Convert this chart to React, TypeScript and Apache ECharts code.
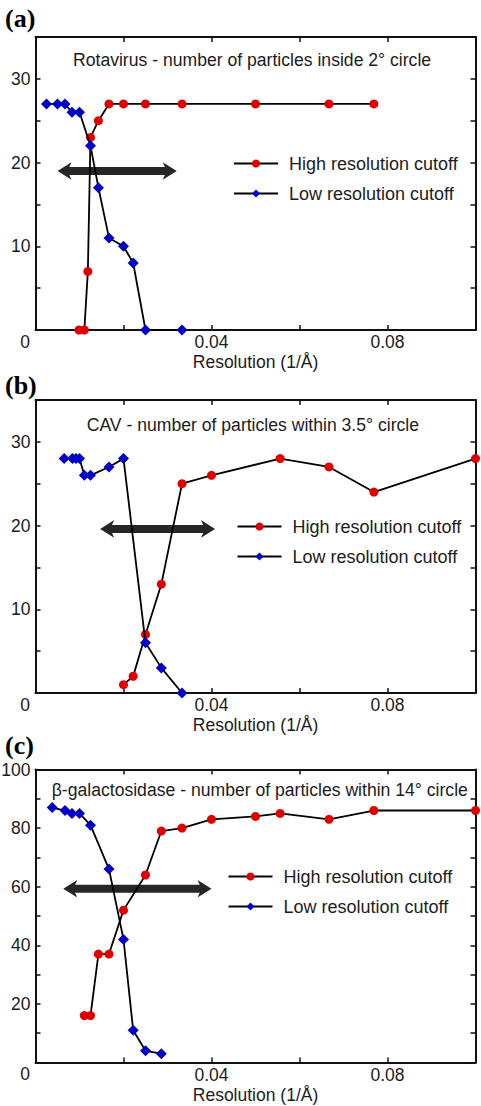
import React, { useEffect, useRef } from "react";
import * as echarts from "echarts";

// ---------- data ----------
const seriesNames = ["High resolution cutoff", "Low resolution cutoff"];
const panelLabels = ["(a)", "(b)", "(c)"];
const panelTitles = [
  "Rotavirus - number of particles inside 2° circle",
  "CAV - number of particles within 3.5° circle",
  "β-galactosidase - number of particles within 14° circle",
];
const xAxisName = "Resolution (1/Å)";
const xTickLabels = ["0.04", "0.08"];
const yMaxes = [35, 35, 100];
const yTickSteps = [5, 5, 10];
const yLabelSteps = [10, 10, 20];

// (a) Rotavirus
const aHighX = [0.0099, 0.0111, 0.0119, 0.0125, 0.0143, 0.0167, 0.02, 0.025, 0.0333, 0.05, 0.0667, 0.0769];
const aHighY = [0, 0, 7, 23, 25, 27, 27, 27, 27, 27, 27, 27];
const aLowX = [0.0025, 0.005, 0.0067, 0.0083, 0.01, 0.0125, 0.0143, 0.0167, 0.02, 0.0222, 0.025, 0.0333];
const aLowY = [27, 27, 27, 26, 26, 22, 17, 11, 10, 8, 0, 0];
const aArrowX = [0.005, 0.0321]; // arrow tips
const aArrowY = 19;

// (b) CAV
const bHighX = [0.02, 0.0222, 0.025, 0.0286, 0.0333, 0.04, 0.0556, 0.0667, 0.0769, 0.1];
const bHighY = [1, 2, 7, 13, 25, 26, 28, 27, 24, 28];
const bLowX = [0.0065, 0.0084, 0.0092, 0.01, 0.0111, 0.0125, 0.0167, 0.02, 0.025, 0.0286, 0.0333];
const bLowY = [28, 28, 28, 28, 26, 26, 27, 28, 6, 3, 0];
const bArrowX = [0.0147, 0.0408];
const bArrowY = 19.6;

// (c) beta-galactosidase
const cHighX = [0.0111, 0.0125, 0.0143, 0.0167, 0.02, 0.025, 0.0286, 0.0333, 0.04, 0.05, 0.0556, 0.0667, 0.0769, 0.1];
const cHighY = [16, 16, 37, 37, 52, 64, 79, 80, 83, 84, 85, 83, 86, 86];
const cLowX = [0.0038, 0.0067, 0.0083, 0.01, 0.0125, 0.0167, 0.02, 0.0222, 0.025, 0.0286];
const cLowY = [87, 86, 85, 85, 81, 66, 42, 11, 4, 3];
const cArrowX = [0.0063, 0.04];
const cArrowY = 59.3;

const highXs = [aHighX, bHighX, cHighX];
const highYs = [aHighY, bHighY, cHighY];
const lowXs = [aLowX, bLowX, cLowX];
const lowYs = [aLowY, bLowY, cLowY];
const arrowXs = [aArrowX, bArrowX, cArrowX];
const arrowYs = [aArrowY, bArrowY, cArrowY];

// ---------- layout / style ----------
const FONT = "'Liberation Sans', Arial, Helvetica, sans-serif";
const TXT = "#1c1c1c";
const RED = "#e00000";
const BLUE = "#0000c8";
const ARROW = "#262626";
const gridTops = [37, 400, 769.5];
const gridLeft = 35.5;
const gridW = 440;
const gridH = 293;
const legendPos = [
  { left: 233, top: 154.5 },
  { left: 236.5, top: 517.5 },
  { left: 227.5, top: 867.5 },
];
const titlePos = [
  { x: 73, y: 60 },
  { x: 86.7, y: 425 },
  { x: 51.7, y: 790 },
];
const labelY = [18, 385, 745];

const zip = (xs: number[], ys: number[]) => xs.map((x, i) => [x, ys[i]]);

// double-headed arrow drawn from data coordinates
const HEAD_LEN = 14;
const HEAD_HALF = 8.8;
const NOTCH = 10;
const SHAFT_HALF = 4;
function renderArrow(params: any, api: any) {
  const p0 = api.coord([api.value(0), api.value(2)]);
  const p1 = api.coord([api.value(1), api.value(2)]);
  const y = p0[1];
  const l = p0[0];
  const r = p1[0];
  return {
    type: "group",
    children: [
      {
        type: "rect",
        shape: { x: l + NOTCH - 1, y: y - SHAFT_HALF, width: r - l - 2 * NOTCH + 2, height: 2 * SHAFT_HALF },
        style: { fill: ARROW },
      },
      {
        type: "polygon",
        shape: {
          points: [
            [l, y],
            [l + HEAD_LEN, y - HEAD_HALF],
            [l + NOTCH, y],
            [l + HEAD_LEN, y + HEAD_HALF],
          ],
        },
        style: { fill: ARROW },
      },
      {
        type: "polygon",
        shape: {
          points: [
            [r, y],
            [r - HEAD_LEN, y - HEAD_HALF],
            [r - NOTCH, y],
            [r - HEAD_LEN, y + HEAD_HALF],
          ],
        },
        style: { fill: ARROW },
      },
    ],
  };
}

function buildOption() {
  const grid: any[] = [];
  const xAxis: any[] = [];
  const yAxis: any[] = [];
  const series: any[] = [];
  const legend: any[] = [];
  const graphic: any[] = [];

  for (let g = 0; g < 3; g++) {
    grid.push({
      left: gridLeft,
      top: gridTops[g],
      width: gridW,
      height: gridH,
      outerBoundsMode: "none",
      containLabel: false,
    });
    const axisCommon = {
      gridIndex: g,
      type: "value",
      splitLine: { show: false },
      axisLine: { show: true, onZero: false, lineStyle: { color: "#111", width: 2 } },
      axisTick: { show: true, inside: true, length: 5, lineStyle: { color: "#111", width: 1.5 } },
    };
    xAxis.push({
      ...axisCommon,
      position: "bottom",
      min: 0,
      max: 0.1,
      interval: 0.02,
      name: xAxisName,
      nameLocation: "middle",
      nameGap: 23,
      nameTextStyle: { fontFamily: FONT, fontSize: 17.5, color: TXT },
      axisLabel: {
        show: true,
        margin: 3,
        fontFamily: FONT,
        fontSize: 17.5,
        color: TXT,
        formatter: (v: number) => {
          const s = v.toFixed(2);
          return xTickLabels.includes(s) ? s : "";
        },
      },
    });
    xAxis.push({
      ...axisCommon,
      position: "top",
      min: 0,
      max: 0.1,
      interval: 0.02,
      axisLabel: { show: false },
    });
    yAxis.push({
      ...axisCommon,
      position: "left",
      min: 0,
      max: yMaxes[g],
      interval: yTickSteps[g],
      axisLabel: {
        show: true,
        inside: false,
        margin: 5,
        align: "right",
        fontFamily: FONT,
        fontSize: 17.5,
        color: TXT,
        formatter: (v: number) =>
          v > 0 && Math.abs(v % yLabelSteps[g]) < 1e-9 ? String(v) : "",
      },
    });
    yAxis.push({
      ...axisCommon,
      position: "right",
      min: 0,
      max: yMaxes[g],
      interval: yTickSteps[g],
      axisLabel: { show: false },
    });

    series.push({
      type: "custom",
      name: "arrow" + g,
      xAxisIndex: 2 * g,
      yAxisIndex: 2 * g,
      silent: true,
      clip: false,
      z: 1,
      data: [[arrowXs[g][0], arrowXs[g][1], arrowYs[g]]],
      encode: { x: [0, 1], y: 2 },
      renderItem: renderArrow,
    });
    series.push({
      type: "line",
      name: seriesNames[0],
      xAxisIndex: 2 * g,
      yAxisIndex: 2 * g,
      data: zip(highXs[g], highYs[g]),
      symbol: "circle",
      symbolSize: 9,
      showAllSymbol: true,
      clip: false,
      z: 3,
      itemStyle: { color: RED },
      lineStyle: { color: "#000", width: 1.8 },
    });
    series.push({
      type: "line",
      name: seriesNames[1],
      xAxisIndex: 2 * g,
      yAxisIndex: 2 * g,
      data: zip(lowXs[g], lowYs[g]),
      symbol: "diamond",
      symbolSize: 11,
      showAllSymbol: true,
      clip: false,
      z: 4,
      itemStyle: { color: BLUE },
      lineStyle: { color: "#000", width: 1.8 },
    });

    legend.push({
      left: legendPos[g].left,
      top: legendPos[g].top,
      padding: 0,
      orient: "vertical",
      itemWidth: 44,
      itemHeight: 10,
      itemGap: 12,
      selectedMode: false,
      data: seriesNames,
      textStyle: { fontFamily: FONT, fontSize: 18, color: TXT, padding: [0, 0, 0, 6] },
    });

    graphic.push({
      type: "text",
      x: 5,
      y: labelY[g],
      style: {
        text: panelLabels[g],
        font: "bold 26px 'Liberation Serif', 'Times New Roman', serif",
        fill: "#000",
        verticalAlign: "middle",
        align: "left",
      },
    });
    graphic.push({
      type: "text",
      x: titlePos[g].x,
      y: titlePos[g].y,
      style: {
        text: panelTitles[g],
        font: `17.6px ${FONT}`,
        fill: TXT,
        verticalAlign: "middle",
        align: "left",
      },
    });
    graphic.push({
      type: "text",
      x: 25,
      y: gridTops[g] + gridH + 11.5,
      style: {
        text: "0",
        font: `17.5px ${FONT}`,
        fill: TXT,
        verticalAlign: "middle",
        align: "center",
      },
    });
  }

  return {
    animation: false,
    backgroundColor: "#fff",
    grid,
    xAxis,
    yAxis,
    series,
    legend,
    graphic,
  };
}

export default function App() {
  const ref = useRef<HTMLDivElement>(null);
  useEffect(() => {
    if (!ref.current) return;
    const chart = echarts.init(ref.current, null, { renderer: "svg" });
    chart.setOption(buildOption() as any);
    return () => chart.dispose();
  }, []);
  return (
    <div
      ref={ref}
      style={{ position: "absolute", left: 0, top: 0, width: 481, height: 1106, background: "#fff" }}
    />
  );
}
